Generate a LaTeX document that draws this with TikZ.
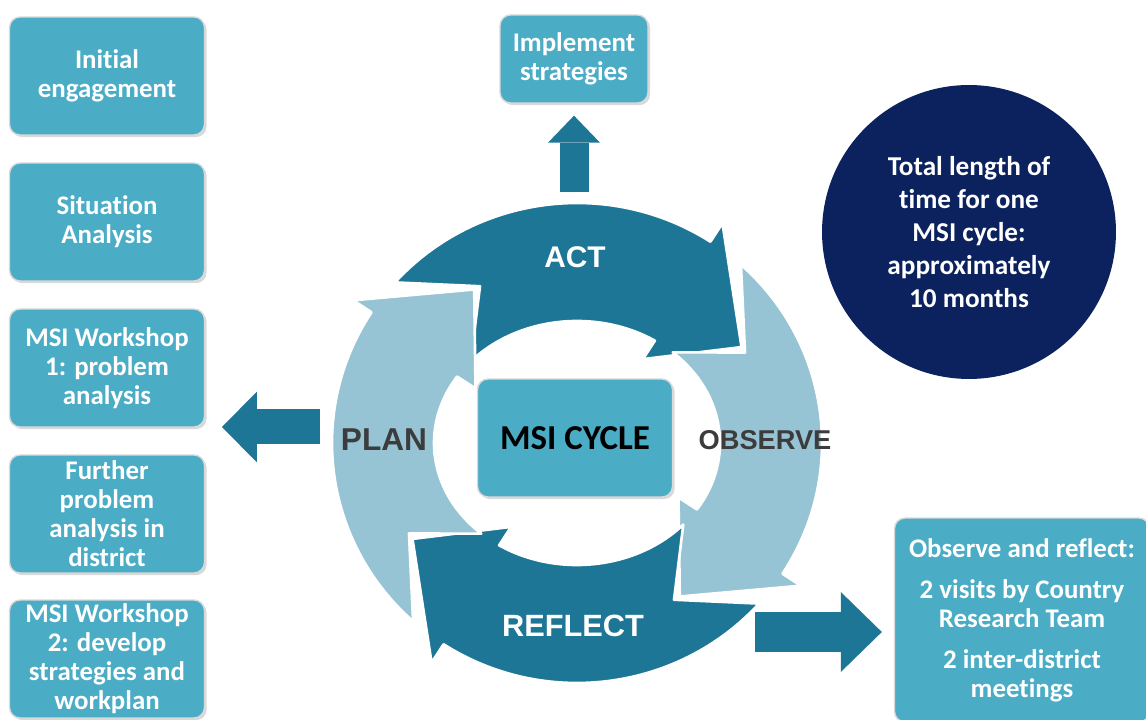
\documentclass[tikz,border=0pt]{standalone}
\usepackage{fontspec}
\setmainfont{Carlito}[Ligatures=NoCommon]
\newfontfamily\ringfont{Liberation Sans}
\usetikzlibrary{arrows.meta,shadows}

\definecolor{boxblue}{RGB}{75,172,198}
\definecolor{ringdark}{RGB}{30,118,150}
\definecolor{ringlight}{RGB}{150,196,212}
\definecolor{circnavy}{RGB}{12,34,94}
\definecolor{labelgray}{RGB}{60,60,60}

\begin{document}
\begin{tikzpicture}[x=0.02cm,y=0.02cm,
    stepbox/.style={rectangle,rounded corners=6pt,fill=boxblue,draw=white!85!black,line width=0.8pt,
      text=white,align=center,font=\bfseries\fontsize{15.3}{16.5}\selectfont,
      minimum width=3.9cm,minimum height=2.36cm,inner sep=1pt,
      drop shadow={shadow xshift=1.2pt,shadow yshift=-1.2pt,opacity=0.3}},
    ringlabel/.style={font=\ringfont\bfseries\fontsize{#1}{19}\selectfont},
    ringlabel/.default=17]
  \useasboundingbox (0,0) rectangle (1146,720);
  % the four stages on the left, top to bottom
  \node[stepbox] (engage) at (107,644) {Initial\\engagement};
  \node[stepbox] (situation) at (107,498) {Situation\\Analysis};
  \node[stepbox] (workshopA) at (107,352) {MSI Workshop\\1: problem\\analysis};
  \node[stepbox] (further) at (107,206) {Further\\problem\\analysis in\\district};
  \node[stepbox] (workshopB) at (107,61) {MSI Workshop\\2: develop\\strategies and\\workplan};
  \node[stepbox,minimum width=2.96cm,minimum height=1.76cm] (implement) at (574,661) {Implement\\strategies};
  \node[stepbox,minimum width=5.1cm,minimum height=4.08cm] (obsbox) at (1022,100)
    {Observe and reflect:\\[6.8pt]2 visits by Country\\Research Team\\[6.8pt]2 inter-district\\meetings};
  \node[circle,fill=circnavy,minimum size=5.88cm,text=white,align=center,
    font=\bfseries\fontsize{15.5}{18.8}\selectfont] (timecirc) at (969,488)
    {Total length of\\time for one\\MSI cycle:\\approximately\\10 months};
  % the cycle: tail angle / colour, each arrow turning clockwise
  \begin{scope}[shift={(577,277)}]
    \foreach \ang/\col in {135/ringdark,45/ringlight,-45/ringdark,-135/ringlight}{
      \pgfmathsetmacro\tl{\ang+3}
      \pgfmathsetmacro\hb{\ang-78}
      \pgfmathsetmacro\tp{\ang-103}
      \pgfmathsetmacro\nt{\ang-15}
      \filldraw[fill=\col,draw=white,line width=1.5pt,line join=round]
        (\tl:245 and 240) arc[start angle=\tl,end angle=\hb,x radius=245,y radius=240]
        -- (\hb:267 and 262) -- (\tp:194 and 181) -- (\hb:121 and 100)
        -- (\hb:143 and 122) arc[start angle=\hb,end angle=\tl,x radius=143,y radius=122]
        -- (\nt:194 and 181) -- cycle;
    }
  \end{scope}
  \node[ringlabel,text=white] (act) at (575,463) {ACT};
  \node[ringlabel=18,text=labelgray] (plan) at (384,280) {PLAN};
  \node[ringlabel=15.5,text=labelgray] (observe) at (765,280) {OBSERVE};
  \node[ringlabel=17.5,text=white] (reflect) at (573,94) {REFLECT};
  \node[stepbox,text=black,font=\bfseries\fontsize{19.9}{22}\selectfont] (cycle) at (575,282) {MSI CYCLE};
  % block arrows out of the cycle
  \coordinate (actout) at (574,528);
  \coordinate (planout) at (320,293);
  \coordinate (plantip) at (222,293);
  \coordinate (obsout) at (755,88);
  \draw[ringdark,line width=0.58cm,shorten >=0.24cm,
    -{Triangle[length=0.54cm,width=1.04cm,line width=0pt]}] (actout) -- (implement.south);
  \draw[ringdark,line width=0.7cm,
    -{Triangle[length=0.7cm,width=1.42cm,line width=0pt]}] (planout) -- (plantip);
  \draw[ringdark,line width=0.8cm,shorten >=0.24cm,
    -{Triangle[length=0.82cm,width=1.6cm,line width=0pt]}] (obsout) -- (obsout -| obsbox.west);
\end{tikzpicture}
\end{document}
